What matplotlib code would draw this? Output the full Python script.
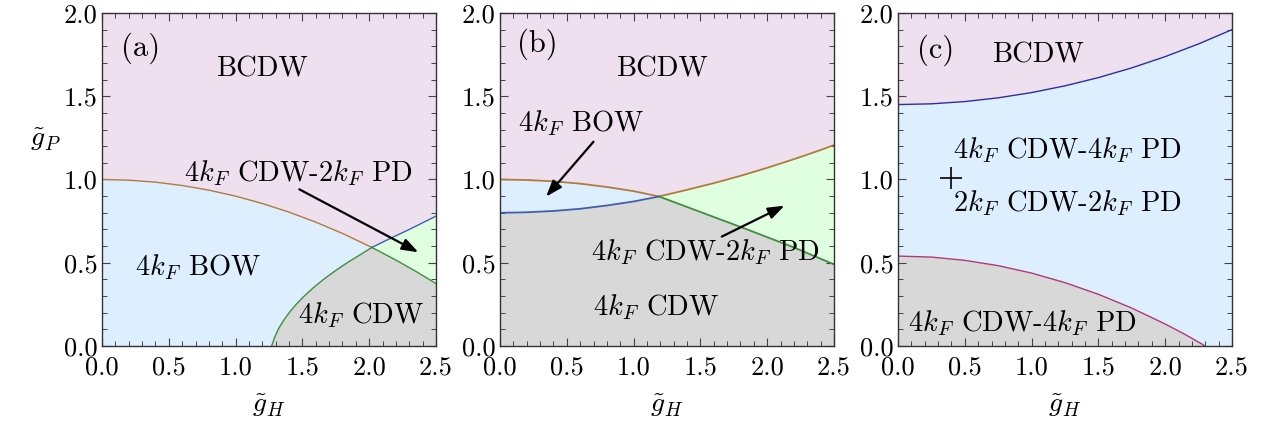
# Phase diagrams (a), (b), (c) in the g_H - g_P plane
import numpy as np
import matplotlib
matplotlib.use("Agg")
import matplotlib.pyplot as plt
from matplotlib.ticker import MultipleLocator, FormatStrFormatter

plt.rcParams['font.family'] = 'serif'
plt.rcParams['font.serif'] = ['cmr10']
plt.rcParams['mathtext.fontset'] = 'cm'
plt.rcParams['axes.formatter.use_mathtext'] = True

PINK = '#EFE0F0'
BLUE = '#DDEEFF'
GREEN = '#E0FFE0'
GRAY = '#D8D8D8'
C_BROWN = '#B07C3C'
C_BLUE = '#3F5FAF'
C_GREEN = '#3F8F3F'
C_NAVY = '#2E2E9E'
C_RED = '#B03A74'

# panel (a): BCDW boundary, CDW boundary and PD boundary
a_up_x = [0.0, 0.2, 0.4, 0.6, 0.8, 1.0, 1.2, 1.4, 1.6, 1.8, 2.02, 2.2, 2.35, 2.5]
a_up_y = [1.0, 0.996, 0.984, 0.964, 0.936, 0.90, 0.856, 0.804, 0.744, 0.676,
          0.592, 0.516, 0.448, 0.375]
a_cdw_x = [1.27, 1.291, 1.319, 1.356, 1.401, 1.453, 1.514, 1.582, 1.658,
           1.743, 1.835, 1.936, 2.02]
a_cdw_y = [0.0, 0.05, 0.10, 0.15, 0.20, 0.25, 0.30, 0.35, 0.40, 0.45, 0.50,
           0.55, 0.592]
a_pd_x = [2.02, 2.15, 2.3, 2.5]
a_pd_y = [0.592, 0.643, 0.70, 0.78]
a_cross = 2.02

# panel (b)
b_up_x = [0.0, 0.2, 0.4, 0.6, 0.8, 1.0, 1.19, 1.4, 1.6, 1.8, 2.0, 2.2, 2.4, 2.5]
b_up_y = [1.0, 0.997, 0.989, 0.975, 0.955, 0.93, 0.898, 0.938, 0.978, 1.022,
          1.07, 1.122, 1.177, 1.207]
b_low_x = [0.0, 0.2, 0.4, 0.6, 0.8, 1.0, 1.19]
b_low_y = [0.80, 0.803, 0.811, 0.824, 0.844, 0.868, 0.898]
b_pd_x = [1.19, 1.5, 1.85, 2.2, 2.5]
b_pd_y = [0.898, 0.805, 0.70, 0.592, 0.49]
b_cross = 1.19

# panel (c)
c_up_x = [0.0, 0.25, 0.5, 0.75, 1.0, 1.25, 1.5, 1.75, 2.0, 2.25, 2.5]
c_up_y = [1.45, 1.4545, 1.468, 1.4905, 1.522, 1.5625, 1.612, 1.6705, 1.738,
          1.8145, 1.90]
c_low_x = [0.0, 0.25, 0.5, 0.75, 1.0, 1.25, 1.5, 1.75, 2.0, 2.15, 2.3]
c_low_y = [0.54, 0.534, 0.5145, 0.4826, 0.438, 0.3806, 0.3105, 0.2277,
           0.132, 0.069, 0.0]

lab = {'size': 20.5}
arrow = dict(arrowstyle='-|>,head_length=0.7,head_width=0.25', color='black',
             lw=1.6, mutation_scale=14, shrinkA=0, shrinkB=0)

fig = plt.figure(figsize=(12.7, 4.33), dpi=100)
axes = [fig.add_axes([l / 1270, 87 / 433, 334 / 1270, 333 / 433])
        for l in (102, 500, 898)]

for ax in axes:
    ax.set_facecolor(PINK)
    ax.set_xlim(0, 2.5)
    ax.set_ylim(0, 2.0)
    ax.xaxis.set_major_locator(MultipleLocator(0.5))
    ax.xaxis.set_minor_locator(MultipleLocator(0.1))
    ax.yaxis.set_major_locator(MultipleLocator(0.5))
    ax.yaxis.set_minor_locator(MultipleLocator(0.1))
    ax.xaxis.set_major_formatter(FormatStrFormatter('%.1f'))
    ax.yaxis.set_major_formatter(FormatStrFormatter('%.1f'))
    ax.tick_params(which='both', direction='in', top=True, right=True,
                   labelsize=19, color='#444444')
    ax.tick_params(which='major', length=6, width=0.8)
    ax.tick_params(which='minor', length=3.5, width=0.7)
    ax.tick_params(axis='x', which='major', pad=7)
    ax.tick_params(axis='y', which='major', pad=3)
    for s in ax.spines.values():
        s.set_color('#333333')
        s.set_linewidth(1.0)
    ax.set_xlabel(r'$\tilde{g}_H$', fontsize=20, labelpad=9)

axes[0].set_ylabel(r'$\tilde{g}_P$', fontsize=20, rotation=0)
axes[0].yaxis.set_label_coords(-0.17, 0.58)

# ---- (a)
ax = axes[0]
ux, uy = np.array(a_up_x), np.array(a_up_y)
L = ux <= a_cross
R = ux >= a_cross
cx, cy = np.array(a_cdw_x), np.array(a_cdw_y)
px, py = np.array(a_pd_x), np.array(a_pd_y)
ax.fill(np.r_[0, ux[L], cx[::-1]], np.r_[0, uy[L], cy[::-1]], color=BLUE, lw=0)
ax.fill(np.r_[cx, ux[R][1:], 2.5], np.r_[cy, uy[R][1:], 0], color=GRAY, lw=0)
ax.fill(np.r_[ux[R], px[::-1]], np.r_[uy[R], py[::-1]], color=GREEN, lw=0)
ax.plot(ux[L], uy[L], color=C_BROWN, lw=1)
ax.plot(ux[R], uy[R], color=C_GREEN, lw=1)
ax.plot(cx, cy, color=C_GREEN, lw=1)
ax.plot(px, py, color=C_BLUE, lw=1)
ax.text(0.14, 1.79, '(a)', fontsize=22, va='center')
ax.text(1.2, 1.66, 'BCDW', ha='center', va='center', **lab)
ax.text(1.467, 1.04, r'$4k_F$ CDW-$2k_F$ PD', ha='center', va='center', **lab)
ax.text(0.72, 0.476, r'$4k_F$ BOW', ha='center', va='center', **lab)
ax.text(1.94, 0.186, r'$4k_F$ CDW', ha='center', va='center', **lab)
ax.annotate('', xy=(2.368, 0.563), xytext=(1.477, 0.941), arrowprops=arrow)

# ---- (b)
ax = axes[1]
ux, uy = np.array(b_up_x), np.array(b_up_y)
L = ux <= b_cross
R = ux >= b_cross
lx, ly = np.array(b_low_x), np.array(b_low_y)
px, py = np.array(b_pd_x), np.array(b_pd_y)
ax.fill(np.r_[ux[L], lx[::-1]], np.r_[uy[L], ly[::-1]], color=BLUE, lw=0)
ax.fill(np.r_[0, lx, px[1:], 2.5], np.r_[0, ly, py[1:], 0], color=GRAY, lw=0)
ax.fill(np.r_[px, ux[R][::-1]], np.r_[py, uy[R][::-1]], color=GREEN, lw=0)
ax.plot(ux, uy, color=C_BROWN, lw=1.3)
ax.plot(lx, ly, color=C_BLUE, lw=1.3)
ax.plot(px, py, color=C_GREEN, lw=1.3)
ax.text(0.13, 1.81, '(b)', fontsize=22, va='center')
ax.text(1.21, 1.66, 'BCDW', ha='center', va='center', **lab)
ax.text(0.61, 1.337, r'$4k_F$ BOW', ha='center', va='center', **lab)
ax.text(1.537, 0.566, r'$4k_F$ CDW-$2k_F$ PD', ha='center', va='center', **lab)
ax.text(1.17, 0.236, r'$4k_F$ CDW', ha='center', va='center', **lab)
ax.annotate('', xy=(0.345, 0.897), xytext=(0.70, 1.227), arrowprops=arrow)
ax.annotate('', xy=(2.13, 0.843), xytext=(1.66, 0.657), arrowprops=arrow)

# ---- (c)
ax = axes[2]
ux, uy = np.array(c_up_x), np.array(c_up_y)
lx, ly = np.array(c_low_x), np.array(c_low_y)
ax.fill(np.r_[ux, 2.5, 0], np.r_[uy, 0, 0], color=BLUE, lw=0)
ax.fill(np.r_[lx, 0], np.r_[ly, 0], color=GRAY, lw=0)
ax.plot(ux, uy, color=C_NAVY, lw=1)
ax.plot(lx, ly, color=C_RED, lw=1)
ax.text(0.14, 1.778, '(c)', fontsize=22, va='center')
ax.text(1.047, 1.748, 'BCDW', ha='center', va='center', **lab)
ax.text(0.415, 1.177, r'$4k_F$ CDW-$4k_F$ PD', ha='left', va='center', **lab)
ax.text(0.415, 0.857, r'$2k_F$ CDW-$2k_F$ PD', ha='left', va='center', **lab)
ax.text(0.93, 0.136, r'$4k_F$ CDW-$4k_F$ PD', ha='center', va='center', **lab)
ax.plot([0.396], [1.011], marker='+', color='black', ms=16, mew=1.2)

fig.savefig('out.png', dpi=100)
